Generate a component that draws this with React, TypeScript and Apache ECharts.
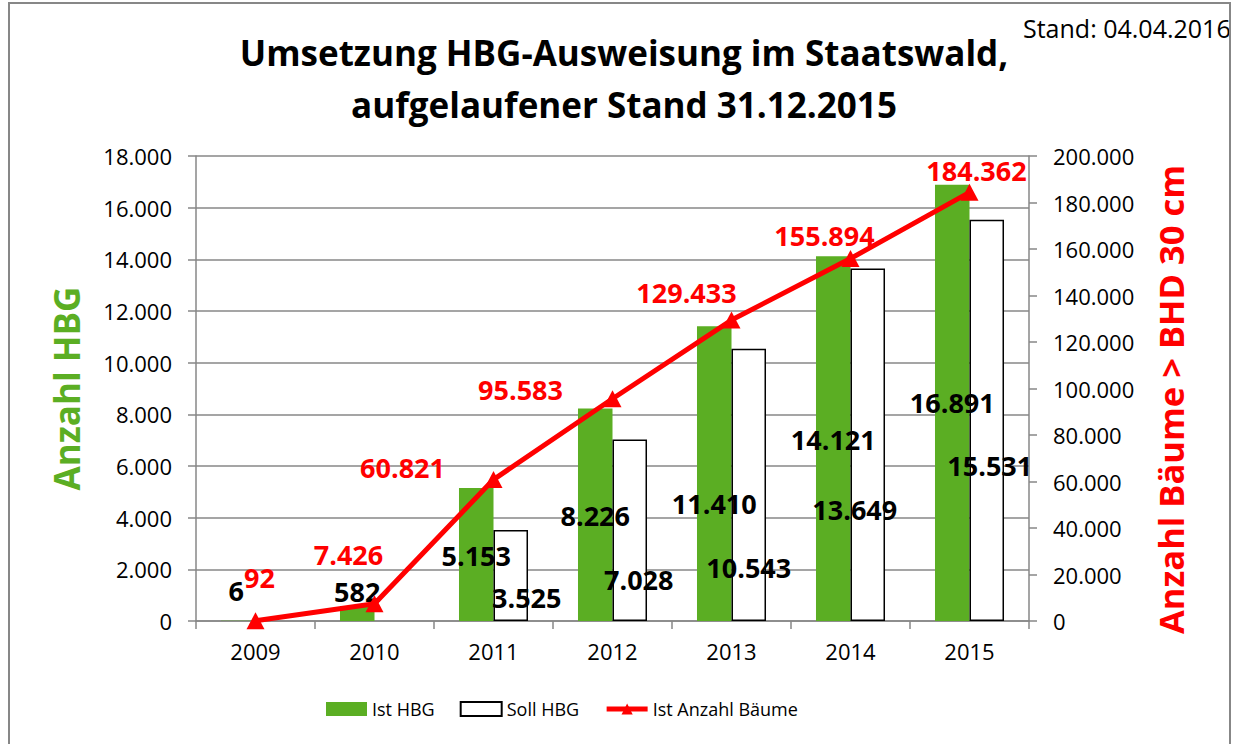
import React, { useEffect, useRef } from "react";
import * as echarts from "echarts";

const years = ["2009", "2010", "2011", "2012", "2013", "2014", "2015"];
const istHBG = [6, 582, 5153, 8226, 11410, 14121, 16891];
const sollHBG: (number | null)[] = [null, null, 3525, 7028, 10543, 13649, 15531];
const istBaeume = [92, 7426, 60821, 95583, 129433, 155894, 184362];
const leftTicks = { min: 0, max: 18000, interval: 2000 };
const rightTicks = { min: 0, max: 200000, interval: 20000 };

// label offsets (layout only)
const istOffsets = [[-2, -30], [0, -22], [0, 1], [0, 1], [0, 30], [0, 1], [0, 0]];
const sollOffsets = [[0, 0], [0, 0], [16, 22], [9, 49], [0, 83], [-13, 65], [3, 45]];
const lineOffsets = [[4, -43], [-26, -49], [-91, -12], [-92, -9], [-45, -28], [-26, -23], [7, -22]];

const FONT = "'Open Sans', 'Noto Sans', sans-serif";
const GREEN = "#5bae23";
const RED = "#ff0000";
const GRAY = "#878787";

const fmt = (v: number) => String(v).replace(/\B(?=(\d{3})+(?!\d))/g, ".");

export default function App() {
  const ref = useRef<HTMLDivElement>(null);
  useEffect(() => {
    if (!ref.current) return;
    const chart = echarts.init(ref.current, null, { renderer: "svg" });
    const labelBold = { fontFamily: FONT, fontWeight: "bold" as const, fontSize: 27 };
    chart.setOption({
      animation: false,
      backgroundColor: "#ffffff",
      textStyle: { fontFamily: FONT },
      title: {
        text: "Umsetzung HBG-Ausweisung im Staatswald,\naufgelaufener Stand 31.12.2015",
        left: 619,
        top: 21,
        textAlign: "center",
        textStyle: { fontFamily: FONT, fontWeight: "bold", fontSize: 35, lineHeight: 52, color: "#000" },
      },
      graphic: [
        {
          type: "text",
          left: 1023,
          top: 15,
          z: 10,
          style: { text: "Stand: 04.04.2016", fontFamily: FONT, fontSize: 25, fill: "#000" },
        },
        { type: "rect", z: 11, shape: { x: 1231, y: 0, width: 20, height: 744 }, style: { fill: "#fff" } },
        {
          type: "rect",
          z: 12,
          shape: { x: 9, y: 3, width: 1221, height: 800 },
          style: { fill: "none", stroke: GRAY, lineWidth: 2 },
        },
      ],
      legend: {
        left: 321,
        top: 695,
        itemWidth: 41,
        itemHeight: 14,
        itemGap: 25,
        textStyle: { fontFamily: FONT, fontSize: 18, color: "#000" },
        data: [
          { name: "Ist HBG", icon: "rect" },
          { name: "Soll HBG", icon: "rect" },
          { name: "Ist Anzahl Bäume", lineStyle: { width: 5, color: RED }, itemStyle: { color: RED } },
        ],
      },
      grid: { left: 196, right: 213, top: 156, bottom: 123 },
      xAxis: {
        type: "category",
        data: years,
        axisLine: { lineStyle: { color: GRAY, width: 1.5 } },
        axisTick: { show: true, length: 8, lineStyle: { color: GRAY, width: 1.5 } },
        axisLabel: { color: "#000", fontSize: 22, fontFamily: FONT, margin: 19 },
      },
      yAxis: [
        {
          type: "value",
          ...leftTicks,
          position: "left",
          name: "Anzahl HBG",
          nameLocation: "middle",
          nameRotate: 90,
          nameGap: 112,
          nameTextStyle: { color: GREEN, fontSize: 35, fontWeight: "bold", fontFamily: FONT },
          axisLine: { show: true, lineStyle: { color: GRAY, width: 1.5 } },
          axisTick: { show: true, length: 8, lineStyle: { color: GRAY, width: 1.5 } },
          axisLabel: { color: "#000", fontSize: 22, fontFamily: FONT, margin: 24, formatter: (v: number) => fmt(v) },
          splitLine: { show: true, lineStyle: { color: GRAY, width: 1.5 } },
        },
        {
          type: "value",
          ...rightTicks,
          position: "right",
          name: "Anzahl Bäume > BHD 30 cm",
          nameLocation: "middle",
          nameRotate: 90,
          nameGap: 124,
          nameTextStyle: {
            color: RED,
            fontSize: 34.5,
            fontWeight: "bold",
            fontFamily: FONT,
            padding: [0, 22, 0, 0],
          },
          axisLine: { show: true, lineStyle: { color: GRAY, width: 1.5 } },
          axisTick: { show: true, length: 8, lineStyle: { color: GRAY, width: 1.5 } },
          axisLabel: { color: "#000", fontSize: 22, fontFamily: FONT, margin: 24, formatter: (v: number) => fmt(v) },
          splitLine: { show: false },
        },
      ],
      series: [
        {
          name: "Ist HBG",
          type: "bar",
          yAxisIndex: 0,
          barGap: "0%",
          barCategoryGap: "42%",
          itemStyle: { color: GREEN },
          label: { show: true, position: "inside", color: "#000", ...labelBold, formatter: (p: any) => fmt(p.value) },
          data: istHBG.map((v, i) => ({ value: v, label: { offset: istOffsets[i] } })),
          z: 2,
        },
        {
          name: "Soll HBG",
          type: "bar",
          yAxisIndex: 0,
          itemStyle: { color: "#ffffff", borderColor: "#000", borderWidth: 1.5 },
          label: { show: true, position: "inside", color: "#000", ...labelBold, formatter: (p: any) => fmt(p.value) },
          data: sollHBG.map((v, i) => (v == null ? null : { value: v, label: { offset: sollOffsets[i] } })),
          z: 2,
        },
        {
          name: "Ist Anzahl Bäume",
          type: "line",
          yAxisIndex: 1,
          symbol: "triangle",
          symbolSize: [18, 17],
          showAllSymbol: true,
          lineStyle: { color: RED, width: 5 },
          itemStyle: { color: RED },
          label: { show: true, position: "inside", color: RED, ...labelBold, formatter: (p: any) => fmt(p.value) },
          data: istBaeume.map((v, i) => ({ value: v, label: { offset: lineOffsets[i] } })),
          z: 5,
        },
      ],
    });
    return () => chart.dispose();
  }, []);
  return <div ref={ref} style={{ position: "fixed", left: 0, top: 0, width: 1242, height: 744 }} />;
}
